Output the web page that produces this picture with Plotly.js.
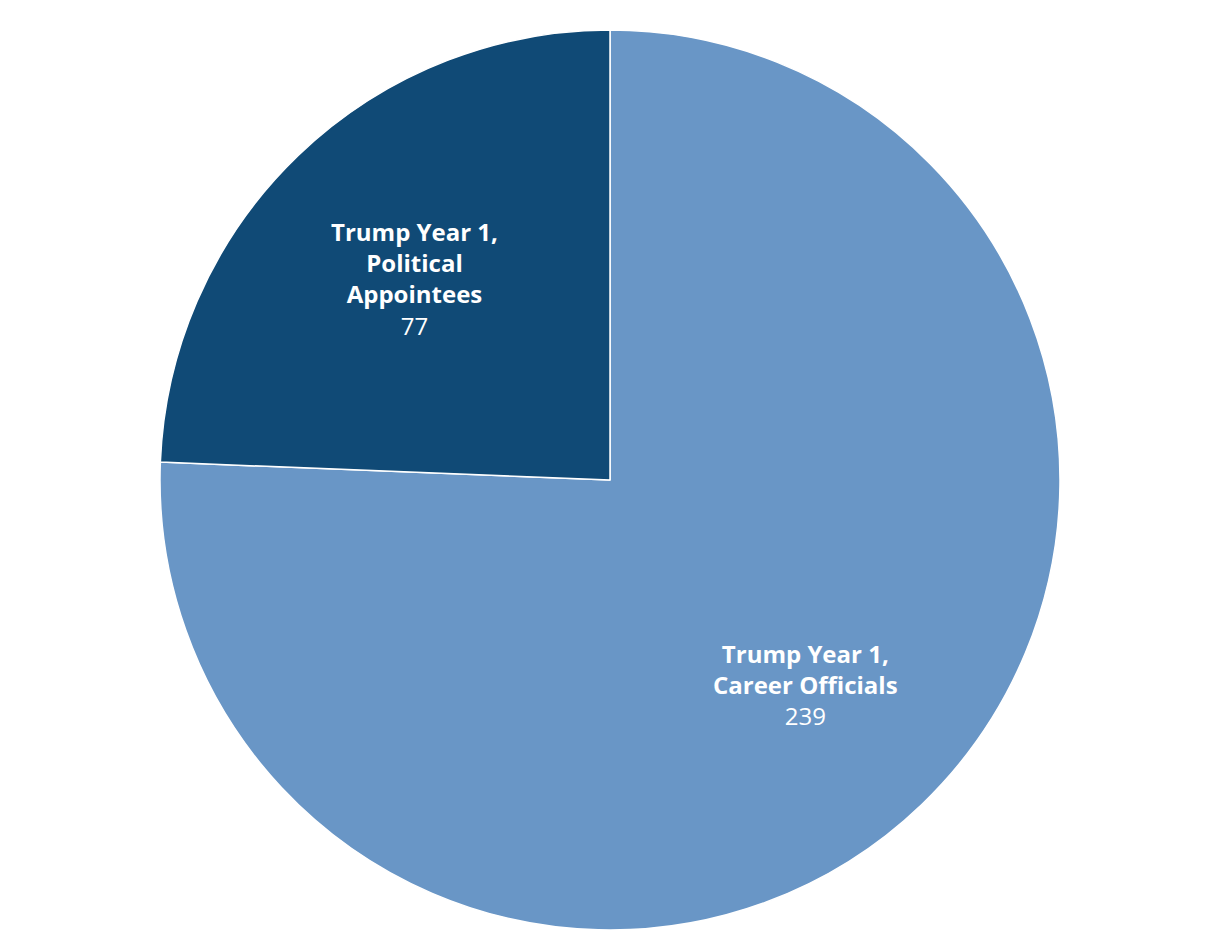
<!DOCTYPE html>
<html>
<head>
<meta charset="utf-8">
<script src="https://cdn.plot.ly/plotly-3.0.1.min.js"></script>
<style>html,body{margin:0;padding:0;background:#fff;}#chart{width:1220px;height:940px;}</style>
</head>
<body>
<div id="chart"></div>
<script>
const labels = ["Trump Year 1,<br>Career Officials", "Trump Year 1,<br>Political<br>Appointees"];
const values = [239, 77];
const colors = ["#6996C6", "#104A76"];
// label anchor positions (paper coordinates)
const labelPos = [[0.660, 0.2733], [0.340, 0.7244]];

const trace = {
  type: "pie",
  labels: labels,
  values: values,
  sort: false,
  direction: "clockwise",
  rotation: 0,
  marker: {colors: colors, line: {color: "#ffffff", width: 1.5}},
  textinfo: "none",
  hoverinfo: "none",
  showlegend: false
};

const annotations = labels.map((l, i) => ({
  xref: "paper", yref: "paper",
  x: labelPos[i][0], y: labelPos[i][1],
  xanchor: "center", yanchor: "middle",
  text: "<b>" + l + "</b><br>" + values[i],
  showarrow: false,
  align: "center",
  font: {family: "'Open Sans', Lato, sans-serif", size: 24, color: "#ffffff"}
}));

Plotly.newPlot("chart", [trace], {
  width: 1220, height: 940,
  margin: {l: 0, r: 0, t: 30, b: 10},
  paper_bgcolor: "#ffffff",
  showlegend: false,
  annotations: annotations
}, {displayModeBar: false, staticPlot: true});
</script>
</body>
</html>
